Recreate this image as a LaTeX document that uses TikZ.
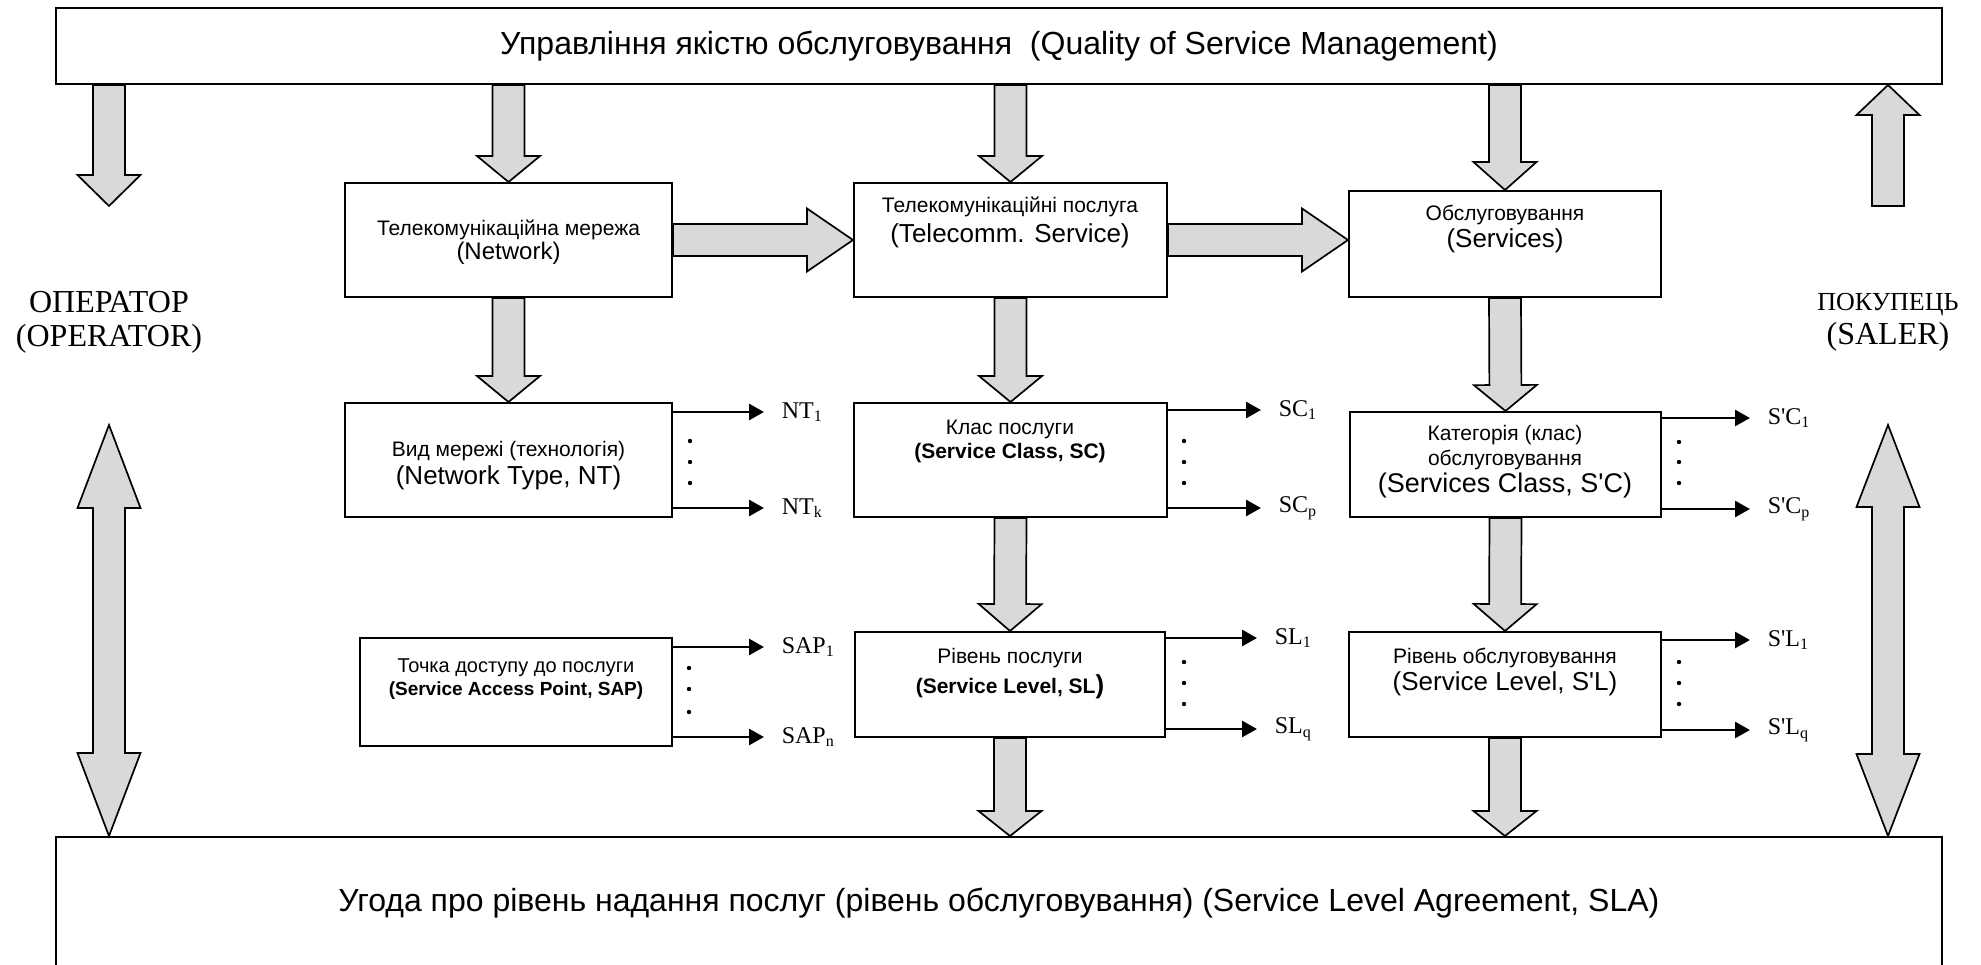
\documentclass[tikz,border=0pt]{standalone}
\usepackage{fontspec}
\setmainfont{Liberation Sans}
\newfontfamily\serifrm{Liberation Serif}
\usetikzlibrary{calc,arrows.meta}

\definecolor{arrowgray}{RGB}{217,217,217}
\tikzset{every picture/.style={line width=0.75pt}}
\tikzset{
  box/.style={draw, line width=1pt, fill=white, inner sep=0pt},
  boxtext/.style={align=center, inner sep=0pt, font=\fontsize{10.5}{12}\selectfont},
  bigtext/.style={font=\fontsize{16}{19}\selectfont},
  sidetext/.style={align=center, inner sep=0pt, font=\serifrm\fontsize{16}{17}\selectfont},
  lbl/.style={anchor=west, inner sep=2pt, font=\serifrm\fontsize{12}{14}\selectfont},
  outarrow/.style={line width=1.35pt, -{Triangle[length=7.5pt,width=8pt]}, shorten >=6.5pt},
  blockarrow/.style={draw=black, fill=arrowgray, line width=0.85pt, line join=miter},
}

% wide grey arrow: tail, tip, head length
\newcommand{\blockarrow}[3]{%
  \coordinate (ba-t) at (#1);
  \coordinate (ba-h) at (#2);
  \coordinate (ba-b) at ($(ba-h)!#3!(ba-t)$);
  \draw[blockarrow] ($(ba-t)!8pt!90:(ba-h)$) -- ($(ba-b)!8pt!90:(ba-h)$) -- ($(ba-b)!15.75pt!90:(ba-h)$) -- (ba-h) -- ($(ba-b)!15.75pt!-90:(ba-h)$) -- ($(ba-b)!8pt!-90:(ba-h)$) -- ($(ba-t)!8pt!-90:(ba-h)$) -- cycle;
}
% wide grey arrow with two heads: end, end, head length
\newcommand{\dblockarrow}[3]{%
  \coordinate (da-a) at (#1);
  \coordinate (da-b) at (#2);
  \coordinate (da-ha) at ($(da-a)!#3!(da-b)$);
  \coordinate (da-hb) at ($(da-b)!#3!(da-a)$);
  \draw[blockarrow] (da-a) -- ($(da-ha)!15.75pt!90:(da-b)$) -- ($(da-ha)!8pt!90:(da-b)$) -- ($(da-hb)!8pt!-90:(da-a)$) -- ($(da-hb)!15.75pt!-90:(da-a)$) -- (da-b) -- ($(da-hb)!15.75pt!90:(da-a)$) -- ($(da-hb)!8pt!90:(da-a)$) -- ($(da-ha)!8pt!-90:(da-b)$) -- ($(da-ha)!15.75pt!-90:(da-b)$) -- cycle;
}

\begin{document}
\begin{tikzpicture}[x=0.5pt,y=0.5pt,yscale=-1,xscale=1]
\useasboundingbox (0,0) rectangle (1981,964);

%Shape: Rectangle (top)
\node[box, bigtext, minimum width=943pt, minimum height=38pt] (qos) at (999,46) {Управління якістю обслуговування~ (Quality of Service Management)};
%Shape: Rectangle (bottom)
\node[box, bigtext, minimum width=943pt, minimum height=66pt] (sla) at (999,903) {Угода про рівень надання послуг (рівень обслуговування) (Service Level Agreement, SLA)};

%Shape: Rectangles, first row
\node[box, minimum width=163.5pt, minimum height=57pt] (net) at (508.5,240) {};
\node[box, minimum width=156.5pt, minimum height=57pt] (tel) at (1010.5,240) {};
\node[box, minimum width=156pt, minimum height=53pt] (srv) at (1505,244) {};
%Shape: Rectangles, second row
\node[box, minimum width=163.5pt, minimum height=57pt] (ntype) at (508.5,460) {};
\node[box, minimum width=156.5pt, minimum height=57pt] (sclass) at (1010.5,460) {};
\node[box, minimum width=155.5pt, minimum height=52.5pt] (scat) at (1505.5,464.5) {};
%Shape: Rectangles, third row
\node[box, minimum width=156pt, minimum height=54pt] (sap) at (516,692) {};
\node[box, minimum width=155pt, minimum height=52.5pt] (slev) at (1010,684.5) {};
\node[box, minimum width=156pt, minimum height=52.5pt] (solev) at (1505,684.5) {};

% Text Node
\node[boxtext] (net-txt) at (508.5,242) {Телекомунікаційна мережа\\{\fontsize{12}{12}\selectfont (Network)}};
% Text Node
\node[boxtext] (tel-txt) at (1010,222) {Телекомунікаційні послуга\\[3pt]{\fontsize{13}{13}\selectfont (Telecomm. Service)}};
% Text Node
\node[boxtext] (srv-txt) at (1505,228.5) {Обслуговування\\[1.5pt]{\fontsize{13}{13}\selectfont (Services)}};
% Text Node
\node[boxtext] (ntype-txt) at (508.5,466) {Вид мережі (технологія)\\[2pt]{\fontsize{13}{13}\selectfont (Network Type, NT)}};
% Text Node
\node[boxtext] (sclass-txt) at (1010,441) {Клас послуги\\\textbf{(Service Class, SC)}};
% Text Node
\node[boxtext] (scat-txt) at (1505,462) {Категорія (клас)\\[0.5pt]обслуговування\\[1.5pt]{\fontsize{13.5}{13.5}\selectfont (Services Class, S\textquotesingle C)}};
% Text Node
\node[boxtext, font=\fontsize{10}{11.5}\selectfont] (sap-txt) at (516,679) {Точка доступу до послуги\\{\fontsize{9.5}{11.5}\selectfont\bfseries (Service Access Point, SAP)}};
% Text Node
\node[boxtext] (slev-txt) at (1010,674) {Рівень послуги\\[3pt]\textbf{(Service Level, SL}{\fontsize{13}{13}\selectfont\bfseries )}};
% Text Node
\node[boxtext] (solev-txt) at (1505,672) {Рівень обслуговування\\[1.5pt]{\fontsize{13}{13}\selectfont (Service Level, S\textquotesingle L)}};

% Text Node
\node[sidetext] (oper) at (109,322) {ОПЕРАТОР\\(OPERATOR)};
% Text Node
\node[sidetext] (saler) at (1888,322) {{\fontsize{13}{17}\selectfont ПОКУПЕЦЬ}\\(SALER)};

%Free ends of the side arrows
\coordinate (op-out) at (109,206);
\coordinate (op-in) at (109,425);
\coordinate (sa-out) at (1888,206);
\coordinate (sa-in) at (1888,425);

%Shape: Block Arrows
\blockarrow{qos.south -| op-out}{op-out}{15.5pt}
\blockarrow{qos.south -| net.north}{net.north}{13pt}
\blockarrow{qos.south -| tel.north}{tel.north}{13pt}
\blockarrow{qos.south -| srv.north}{srv.north}{14pt}
\blockarrow{sa-out}{qos.south -| sa-out}{15pt}
\blockarrow{net.east}{tel.west}{23pt}
\blockarrow{tel.east}{tel.east -| srv.west}{23pt}
\blockarrow{net.south}{ntype.north}{13pt}
\blockarrow{tel.south}{sclass.north}{13pt}
\blockarrow{srv.south}{scat.north}{13pt}
\blockarrow{sclass.south}{slev.north}{13.5pt}
\blockarrow{scat.south}{solev.north}{13.5pt}
\blockarrow{slev.south}{slev.south |- sla.north}{12.5pt}
\blockarrow{solev.south}{solev.south |- sla.north}{12.5pt}
%Shape: Double Block Arrows
\dblockarrow{op-in}{op-in |- sla.north}{41.5pt}
\dblockarrow{sa-in}{sa-in |- sla.north}{41pt}

% Text Nodes, outputs
\node[lbl] (nt1) at (777,412) {NT\textsubscript{1}};
\node[lbl] (ntk) at (777,508) {NT\textsubscript{k}};
\node[lbl] (sc1) at (1274,410) {SC\textsubscript{1}};
\node[lbl] (scp) at (1274,508) {SC\textsubscript{p}};
\node[lbl] (scat1) at (1763,418) {S\textquotesingle C\textsubscript{1}};
\node[lbl] (scatp) at (1763,509) {S\textquotesingle C\textsubscript{p}};
\node[lbl] (sap1) at (777,647) {SAP\textsubscript{1}};
\node[lbl] (sapn) at (777,737) {SAP\textsubscript{n}};
\node[lbl] (sl1) at (1270,638) {SL\textsubscript{1}};
\node[lbl] (slq) at (1270,729) {SL\textsubscript{q}};
\node[lbl] (sol1) at (1763,640) {S\textquotesingle L\textsubscript{1}};
\node[lbl] (solq) at (1763,730) {S\textquotesingle L\textsubscript{q}};

%Straight Lines
\draw[outarrow] (ntype.east |- nt1.west) -- (nt1.west);
\draw[outarrow] (ntype.east |- ntk.west) -- (ntk.west);
\draw[outarrow] (sclass.east |- sc1.west) -- (sc1.west);
\draw[outarrow] (sclass.east |- scp.west) -- (scp.west);
\draw[outarrow] (scat.east |- scat1.west) -- (scat1.west);
\draw[outarrow] (scat.east |- scatp.west) -- (scatp.west);
\draw[outarrow] (sap.east |- sap1.west) -- (sap1.west);
\draw[outarrow] (sap.east |- sapn.west) -- (sapn.west);
\draw[outarrow] (slev.east |- sl1.west) -- (sl1.west);
\draw[outarrow] (slev.east |- slq.west) -- (slq.west);
\draw[outarrow] (solev.east |- sol1.west) -- (sol1.west);
\draw[outarrow] (solev.east |- solq.west) -- (solq.west);

%Dots
\fill (690,441) circle (1.1pt) (690,462) circle (1.1pt) (690,483) circle (1.1pt);
\fill (1184,441) circle (1.1pt) (1184,462) circle (1.1pt) (1184,483) circle (1.1pt);
\fill (1679,442) circle (1.1pt) (1679,462) circle (1.1pt) (1679,483) circle (1.1pt);
\fill (689,668) circle (1.1pt) (689,689) circle (1.1pt) (689,712) circle (1.1pt);
\fill (1184,662) circle (1.1pt) (1184,683) circle (1.1pt) (1184,704) circle (1.1pt);
\fill (1679,662) circle (1.1pt) (1679,683) circle (1.1pt) (1679,704) circle (1.1pt);

\end{tikzpicture}
\end{document}
